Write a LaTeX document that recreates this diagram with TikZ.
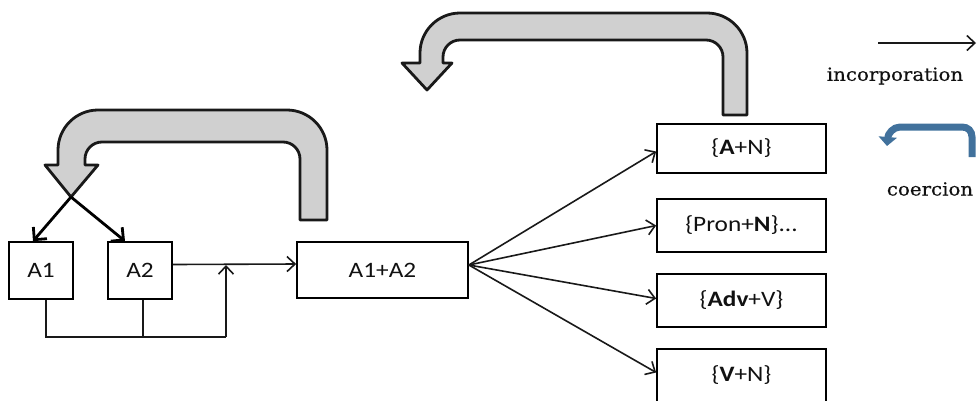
\documentclass[tikz,border=0pt]{standalone}
\usepackage{fontspec}
\usetikzlibrary{arrows.meta}
\newfontfamily\boxfont[FakeStretch=1.15]{Carlito}
\newfontfamily\legfont[FakeStretch=1.1,FakeBold=0.6]{DejaVu Serif}
\definecolor{arrgray}{HTML}{D0D0D0}
\definecolor{coerblue}{HTML}{41719C}
\definecolor{txt}{HTML}{111111}
\begin{document}
\begin{tikzpicture}[x=1pt,y=-1pt,
  wbox/.style={draw=black, line width=1.7pt, inner sep=0pt, text=txt,
    font={\boxfont\fontsize{22}{24}\selectfont}},
  smallbox/.style={wbox, minimum width=64pt, minimum height=57pt},
  outbox/.style={wbox, minimum width=169pt, minimum height=50pt},
  thinarrow/.style={draw=black!90, line width=1.6pt, -{Straight Barb[length=8pt,width=15pt]}},
  thinline/.style={draw=black!90, line width=1.6pt},
  thickarrow/.style={draw=black, line width=2.8pt, -{Straight Barb[length=9pt,width=18pt]}},
  garrow/.style={draw=black!90, line width=2.8pt, fill=arrgray, line join=round},
  coer/.style={draw=coerblue, line width=7pt, -{Triangle[length=9pt,width=18pt]}},
  legtext/.style={text=txt, font={\legfont\fontsize{18}{20}\selectfont}, inner sep=0pt}
]
\useasboundingbox (0,0) rectangle (977,400);

% boxes
\node[smallbox] (a1) at (41,270.5) {A1};
\node[smallbox] (a2) at (140,270.5) {A2};
\node[wbox, minimum width=171pt, minimum height=56pt] (a12) at (382.5,270) {A1+A2};
\node[outbox, minimum height=49pt] (an) at (741.5,148.5) {\{\textbf{A}+N\}};
\node[outbox, minimum height=53pt] (pn) at (741.5,225.5) {\{Pron+\textbf{N}\}...};
\node[outbox, minimum height=53pt] (av) at (741.5,300.5) {\{\textbf{Adv}+V\}};
\node[outbox, minimum height=53pt] (vn) at (741.5,375.5) {\{\textbf{V}+N\}};

% big gray arrows
\draw[garrow] (300,220) -- (327,220) -- (327,150)
  .. controls (327,128) and (309,110) .. (287,110) -- (98,110)
  .. controls (76,110) and (58,128) .. (58,150) -- (58,165) -- (45,165)
  -- (71,197) -- (98,165) -- (85,165) -- (85,159)
  .. controls (85,149.6) and (92.6,142) .. (102,142) -- (283,142)
  .. controls (292.4,142) and (300,149.6) .. (300,159) -- cycle;
\draw[garrow] (723,115) -- (747,115) -- (747,53)
  .. controls (747,31) and (729,13) .. (707,13) -- (460,13)
  .. controls (438,13) and (420,31) .. (420,53) -- (420,63) -- (402,63)
  -- (427,90) -- (452,63) -- (443,63) -- (443,57)
  .. controls (443,47.6) and (450.6,40) .. (460,40) -- (706,40)
  .. controls (715.4,40) and (723,47.6) .. (723,57) -- cycle;

% split arrows
\coordinate (tip1) at (71,197);
\draw[thickarrow] (tip1) -- ([xshift=-8pt]a1.north);
\draw[thickarrow] (tip1) -- ([xshift=-15pt]a2.north);

% flow to A1+A2
\draw[thinarrow] ([yshift=6pt]a2.east) -- ([yshift=6pt]a12.west);
\coordinate (bot) at (226,337);
\coordinate (merge) at (226,265);
\draw[thinline] ([xshift=5pt]a1.south) |- (bot);
\draw[thinline] ([xshift=3pt]a2.south) -- ([xshift=3pt]a2.south |- bot);
\draw[thinarrow] (bot) -- (merge);

% fan out
\coordinate (fan) at ([yshift=5pt]a12.east);
\draw[thinarrow] (fan) -- ([yshift=-3pt]an.west);
\draw[thinarrow] (fan) -- (pn.west);
\draw[thinarrow] (fan) -- ([yshift=2pt]av.west);
\draw[thinarrow] (fan) -- ([yshift=3pt]vn.west);

% legend
\coordinate (inc1) at (878,43);
\coordinate (inc2) at (976,43);
\draw[thinarrow] (inc1) -- (inc2);
\node[legtext] (inclab) at (895,76) {incorporation};
\coordinate (cb1) at (972,157);
\draw[coer] (cb1) -- (972,137) .. controls (972,131) and (968,127) .. (962,127)
  -- (900,127) .. controls (893,127) and (888,134) .. (887,146);
\node[legtext] (coerlab) at (930,189) {coercion};
\end{tikzpicture}
\end{document}
